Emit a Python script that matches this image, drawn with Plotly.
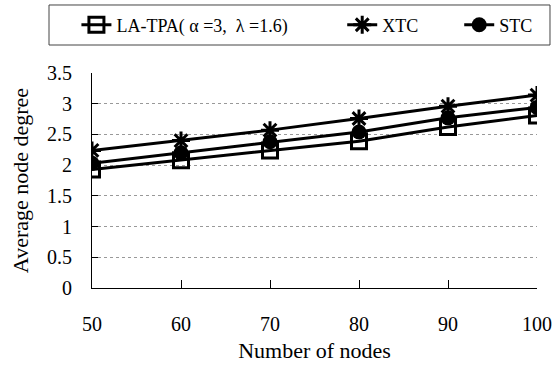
import plotly.graph_objects as go

nodes = [50, 60, 70, 80, 90, 100]
la_tpa = [1.93, 2.08, 2.24, 2.39, 2.62, 2.81]
xtc = [2.24, 2.40, 2.57, 2.76, 2.96, 3.14]
stc = [2.03, 2.20, 2.38, 2.54, 2.77, 2.94]
y_ticks = [0, 0.5, 1, 1.5, 2, 2.5, 3, 3.5]
y_labels = ["0", "0.5", "1", "1.5", "2", "2.5", "3", "3.5"]
names = ["LA-TPA( α =3,  λ =1.6)", "XTC", "STC"]

FONT = "Liberation Serif"

fig = go.Figure()
fig.add_trace(go.Scatter(x=nodes, y=la_tpa, name=names[0] + "\u00a0" * 11, mode="lines+markers",
                         line=dict(color="black", width=3),
                         marker=dict(symbol="square-open", size=15, color="black", line=dict(width=3))))
fig.add_trace(go.Scatter(x=nodes, y=xtc, name=names[1] + "\u00a0" * 8, mode="lines+markers",
                         line=dict(color="black", width=3),
                         marker=dict(symbol="asterisk-open", size=15, color="black", line=dict(width=3))))
fig.add_trace(go.Scatter(x=nodes, y=stc, name=names[2], mode="lines+markers",
                         line=dict(color="black", width=3),
                         marker=dict(symbol="circle", size=15, color="black")))

fig.add_shape(type="rect", xref="paper", yref="paper",
              x0=-0.0966, x1=1.0292, y0=1.1302, y1=1.3163,
              line=dict(color="#444", width=1), fillcolor="rgba(0,0,0,0)")

fig.update_layout(
    template="none",
    width=553, height=367,
    margin=dict(l=92, r=16, t=73, b=79, autoexpand=False),
    paper_bgcolor="white", plot_bgcolor="white",
    font=dict(family=FONT, color="black", size=18),
    showlegend=True,
    legend=dict(orientation="h", x=-0.035, xanchor="left", y=1.223, yanchor="middle",
                borderwidth=0, font=dict(size=18, family=FONT), bgcolor="rgba(0,0,0,0)",
                tracegroupgap=0),
    xaxis=dict(range=[50, 100], tickvals=nodes, ticks="inside", ticklen=8, tickcolor="black",
               showline=True, linecolor="black", linewidth=1, showgrid=False, zeroline=False,
               ticklabelstandoff=18, automargin=False,
               title=dict(text="Number of nodes", font=dict(size=22), standoff=8),
               tickfont=dict(size=20)),
    yaxis=dict(range=[0, 3.5], tickvals=y_ticks, ticktext=y_labels, ticks="inside", ticklen=6,
               tickcolor="black", showline=True, linecolor="black", linewidth=1,
               showgrid=True, gridcolor="#999", griddash="dot", gridwidth=1, zeroline=False,
               ticklabelstandoff=15, automargin=False,
               title=dict(text="Average node degree", font=dict(size=22), standoff=12),
               tickfont=dict(size=20)),
)

fig.write_html("out.html", config={"displayModeBar": False},
               post_script="document.body.style.margin='0';document.body.style.overflow='hidden';")
